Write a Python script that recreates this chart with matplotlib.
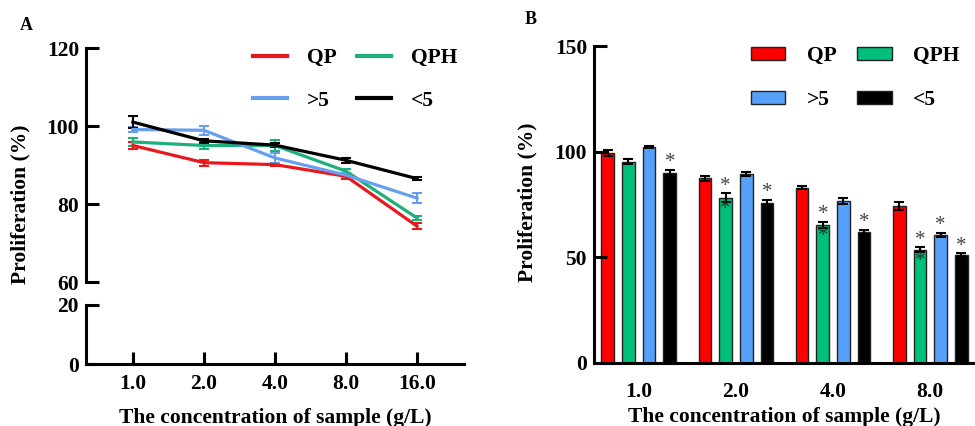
import matplotlib
matplotlib.use('Agg')
import matplotlib.pyplot as plt
from matplotlib.lines import Line2D
from matplotlib.patches import Patch
import numpy as np

plt.rcParams['font.family'] = ['Liberation Serif', 'DejaVu Serif']
plt.rcParams['font.weight'] = 'bold'
plt.rcParams['axes.labelweight'] = 'bold'

# panel A data
conc_a = ['1.0', '2.0', '4.0', '8.0', '16.0']
qp_a = [95.0, 90.6, 90.1, 87.1, 74.3]
qph_a = [95.9, 95.0, 95.0, 88.4, 76.4]
gt5_a = [99.1, 98.9, 91.8, 87.4, 81.5]
lt5_a = [101.0, 96.2, 95.1, 91.2, 86.5]
qp_a_err = [1.0, 0.8, 0.4, 0.6, 0.8]
qph_a_err = [1.0, 1.0, 1.3, 0.5, 0.6]
gt5_a_err = [0.6, 1.2, 1.2, 0.5, 1.2]
lt5_a_err = [1.6, 0.5, 0.6, 0.6, 0.4]

# panel B data
conc_b = ['1.0', '2.0', '4.0', '8.0']
qp_b = [99.4, 87.4, 83.0, 74.3]
qph_b = [95.3, 78.3, 65.4, 53.7]
gt5_b = [102.2, 89.6, 76.5, 60.5]
lt5_b = [90.1, 75.9, 61.9, 51.2]
qp_b_err = [1.5, 1.2, 0.9, 1.7]
qph_b_err = [1.3, 2.0, 1.3, 1.0]
gt5_b_err = [0.6, 1.0, 1.4, 0.9]
lt5_b_err = [1.2, 1.3, 1.2, 0.7]
# significance marks: 1 = star above, 2 = star above and one inside bar
qp_sig = [0, 0, 0, 0]
qph_sig = [0, 2, 2, 2]
gt5_sig = [0, 0, 0, 1]
lt5_sig = [1, 1, 1, 1]

labels = ['QP', 'QPH', '>5', '<5']
line_colors = ['#E8191C', '#1DB07A', '#66A0EC', '#000000']
bar_colors = ['#FF0000', '#00BF7A', '#55A1FA', '#000000']
order = [0, 2, 1, 3]  # legend filled by column -> rows QP QPH / >5 <5

fs = 15.5
fig = plt.figure(figsize=(9.75, 4.26), dpi=100)
W, H = 975.0, 426.0

def ax_rect(l, t, r, b):
    return [l / W, 1 - b / H, (r - l) / W, (b - t) / H]

# ---------- panel A (broken y axis) ----------
ax_top = fig.add_axes(ax_rect(86, 48, 464, 282))
ax_bot = fig.add_axes(ax_rect(86, 305, 464, 364))
x = np.arange(len(conc_a))
series_a = [(qp_a, qp_a_err), (qph_a, qph_a_err), (gt5_a, gt5_a_err), (lt5_a, lt5_a_err)]
for (vals, err), c in zip(series_a, line_colors):
    ax_top.errorbar(x, vals, yerr=err, color=c, lw=2.3, capsize=3.5, elinewidth=1.5,
                    capthick=1.5)

for ax in (ax_top, ax_bot):
    ax.set_xlim(-0.66, 4.66)
    for s in ['top', 'right']:
        ax.spines[s].set_visible(False)
    ax.spines['left'].set_linewidth(2.2)
    ax.spines['bottom'].set_linewidth(2.2)
    ax.tick_params(axis='y', direction='in', length=9, width=2.2, labelsize=fs, pad=5)
ax_top.set_ylim(60, 120)
ax_top.set_yticks([60, 80, 100, 120])
ax_top.spines['bottom'].set_visible(False)
ax_top.set_xticks([])
ax_bot.set_ylim(0, 20)
ax_bot.set_yticks([0, 20])
ax_bot.set_xticks(x)
ax_bot.set_xticklabels(conc_a)
ax_bot.tick_params(axis='x', direction='in', length=9, width=2.2, labelsize=fs, pad=7)
ax_bot.set_xlabel('The concentration of sample (g/L)', fontsize=fs, labelpad=10)

h_a = [Line2D([], [], color=line_colors[i], lw=3) for i in order]
ax_top.legend(h_a, [labels[i] for i in order], ncol=2, loc='upper left',
              bbox_to_anchor=(253 / W, 1 - 48 / H), bbox_transform=fig.transFigure,
              frameon=False, fontsize=fs, handlelength=1.6, handletextpad=0.9,
              columnspacing=0.95, labelspacing=1.05, borderpad=0, borderaxespad=0)

fig.text(20 / W, 1 - 204 / H, 'Proliferation (%)', rotation=90, fontsize=fs,
         fontweight='bold', ha='center', va='center')
fig.text(20 / W, 1 - 25 / H, 'A', fontsize=13, fontweight='bold', ha='left', va='center')

# ---------- panel B (bars) ----------
axb = fig.add_axes(ax_rect(594, 46, 975, 363))
xb = np.arange(len(conc_b))
bw = 0.13
step = 0.213
series_b = [(qp_b, qp_b_err, qp_sig), (qph_b, qph_b_err, qph_sig),
            (gt5_b, gt5_b_err, gt5_sig), (lt5_b, lt5_b_err, lt5_sig)]
for i, ((vals, err, sig), c) in enumerate(zip(series_b, bar_colors)):
    pos = xb + (i - 1.5) * step
    axb.bar(pos, vals, width=bw, color=c, edgecolor='#222222', linewidth=1.0)
    axb.errorbar(pos, vals, yerr=err, fmt='none', ecolor='black', elinewidth=1.5,
                 capsize=3.5, capthick=1.5)
    for p, v, e, s in zip(pos, vals, err, sig):
        if s >= 1:
            axb.annotate('*', (p, v + e), xytext=(0, 2), textcoords='offset points',
                         ha='center', va='baseline', fontsize=15, color='#444444',
                         fontweight='normal', zorder=6)
        if s == 2:
            axb.annotate('*', (p, v), xytext=(0, -12), textcoords='offset points',
                         ha='center', va='baseline', fontsize=15, color='#1a3a2a',
                         fontweight='normal', zorder=6)

axb.set_xlim(-0.46, 3.46)
axb.set_ylim(0, 150)
axb.set_yticks([0, 50, 100, 150])
axb.set_xticks(xb)
axb.set_xticklabels(conc_b)
for s in ['top', 'right']:
    axb.spines[s].set_visible(False)
axb.spines['left'].set_linewidth(2.2)
axb.spines['bottom'].set_linewidth(2.2)
axb.tick_params(axis='y', direction='in', length=9, width=2.2, labelsize=fs, pad=5)
axb.tick_params(axis='x', length=0, labelsize=fs, pad=14)
axb.set_xlabel('The concentration of sample (g/L)', fontsize=fs, labelpad=3)

h_b = [Patch(facecolor=bar_colors[i], edgecolor='#222222', linewidth=1.0) for i in order]
axb.legend(h_b, [labels[i] for i in order], ncol=2, loc='upper left',
           bbox_to_anchor=(751 / W, 1 - 46 / H), bbox_transform=fig.transFigure,
           frameon=False, fontsize=fs, handlelength=1.6, handleheight=0.55,
           handletextpad=1.0, columnspacing=0.95, labelspacing=1.1,
           borderpad=0, borderaxespad=0)

fig.text(527 / W, 1 - 202 / H, 'Proliferation (%)', rotation=90, fontsize=fs,
         fontweight='bold', ha='center', va='center')
fig.text(525 / W, 1 - 20 / H, 'B', fontsize=13, fontweight='bold', ha='left', va='center')

fig.savefig('out.png', dpi=100)
